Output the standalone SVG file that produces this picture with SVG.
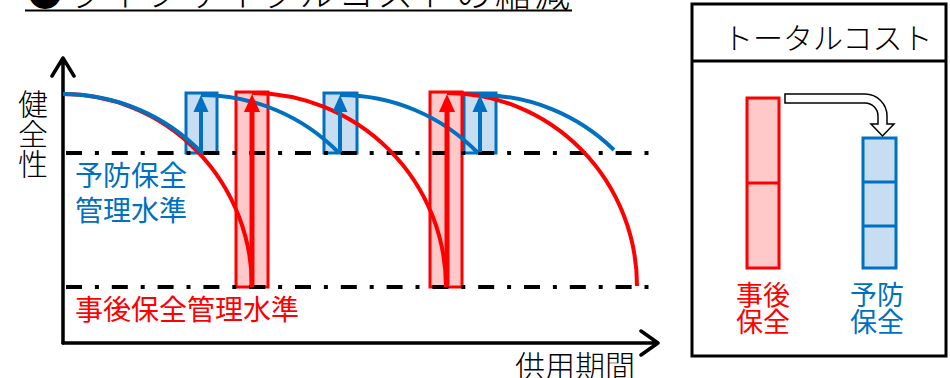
<svg xmlns="http://www.w3.org/2000/svg" width="950" height="378" viewBox="0 0 950 378">
<defs>
<style>
text{font-family:"Noto Sans CJK JP","Noto Sans CJK SC",sans-serif;}
.k{fill:#000;font-weight:300}
.b{fill:#0070C0}
.r{fill:#FF0000}
.rbox{fill:#FFC9C9;stroke:#FF0000;stroke-width:3}
.bbox{fill:#C7DDF1;stroke:#0070C0;stroke-width:3}
.dd{stroke:#000;stroke-width:4;stroke-dasharray:16 12.9 4 12.9;fill:none}
.rc{fill:none;stroke:#FF0000;stroke-width:4}
.bc{fill:none;stroke:#0070C0;stroke-width:4}
.ax{fill:none;stroke:#000;stroke-width:3.5;stroke-linecap:round;stroke-linejoin:round}
.ra{stroke:#FF0000;stroke-width:5}
.ba{stroke:#0070C0;stroke-width:4}
</style>
</defs>
<rect width="950" height="378" fill="#fff"/>

<g id="title">
<text class="k" x="27" y="7" font-size="36" textLength="543" lengthAdjust="spacing">●ライフサイクルコストの縮減</text>
<line x1="25" y1="10.5" x2="572" y2="10.5" stroke="#000" stroke-width="2"/>
</g>

<g id="boxes">
<rect id="blue-box-1" class="bbox" x="186" y="93" width="31" height="60"/>
<rect id="blue-box-2" class="bbox" x="324" y="93" width="33" height="60"/>
<rect id="blue-box-3" class="bbox" x="464" y="93" width="32" height="60"/>
<rect id="red-box-1" class="rbox" x="236" y="92" width="32" height="195"/>
<rect id="red-box-2" class="rbox" x="430" y="92" width="32" height="195"/>
</g>

<g id="levels">
<line class="dd" x1="66" y1="153" x2="652" y2="153"/>
<line class="dd" x1="66" y1="287" x2="652" y2="287"/>
</g>

<g id="axes">
<path class="ax" d="M63,343 V58 M52,76 L63,58 L74,76"/>
<path class="ax" d="M63,343 H657 M641,331 L658,343 L641,355"/>
</g>

<g id="connectors">
<path class="rc" d="M63,94 A189,193 0 0 1 252,287"/>
<path class="rc" d="M252,93 A194,194 0 0 1 446,287"/>
<path class="rc" d="M447,93 A190,193 0 0 1 637,286"/>
<path class="bc" d="M63,94 A193,193 0 0 1 202,153"/>
<path class="bc" d="M201,95 A192,192 0 0 1 339,153"/>
<path class="bc" d="M340,95 A192,192 0 0 1 478,153"/>
<path class="bc" d="M480,95 A192,192 0 0 1 614,150"/>
<line class="ba" x1="201" y1="152" x2="201" y2="108"/>
<polygon fill="#0070C0" points="201,95 193.5,112 208.5,112"/>
<line class="ba" x1="340" y1="152" x2="340" y2="108"/>
<polygon fill="#0070C0" points="340,95 332.5,112 347.5,112"/>
<line class="ba" x1="480" y1="152" x2="480" y2="108"/>
<polygon fill="#0070C0" points="480,95 472.5,112 487.5,112"/>
<line class="ra" x1="252" y1="285" x2="252" y2="108"/>
<polygon fill="#FF0000" points="252,94 244,112 260,112"/>
<line class="ra" x1="447" y1="285" x2="447" y2="108"/>
<polygon fill="#FF0000" points="447,94 439,112 455,112"/>
</g>

<g id="labels">
<text class="k" font-size="30" text-anchor="middle"><tspan x="33" y="115">健</tspan><tspan x="33" y="145">全</tspan><tspan x="33" y="175">性</tspan></text>
<text class="b" font-size="28"><tspan x="75" y="186">予防保全</tspan><tspan x="75" y="221">管理水準</tspan></text>
<text class="r" font-size="28" x="75" y="320">事後保全管理水準</text>
<text class="k" font-size="30" x="515" y="377">供用期間</text>
</g>

<g id="total-cost">
<rect x="692" y="4" width="254" height="352" fill="none" stroke="#000" stroke-width="3"/>
<line x1="692" y1="61" x2="946" y2="61" stroke="#000" stroke-width="3"/>
<text class="k" font-size="30" x="723" y="49">トータルコスト</text>
<g id="bar-red">
<rect class="rbox" x="747" y="98" width="32" height="170" stroke-width="3"/>
<line x1="747" y1="183" x2="779" y2="183" stroke="#FF0000" stroke-width="3"/>
<text class="r" font-size="27" text-anchor="middle"><tspan x="763" y="305">事後</tspan><tspan x="763" y="332">保全</tspan></text>
</g>
<g id="bar-blue">
<rect class="bbox" x="863" y="138" width="33" height="130"/>
<line x1="863" y1="182" x2="896" y2="182" stroke="#0070C0" stroke-width="3"/>
<line x1="863" y1="226" x2="896" y2="226" stroke="#0070C0" stroke-width="3"/>
<text class="b" font-size="27" text-anchor="middle"><tspan x="877" y="305">予防</tspan><tspan x="877" y="332">保全</tspan></text>
</g>
<path id="shift-arrow" d="M785,94 H865 A22,22 0 0 1 887,116 V124 H894 L882.5,136 L871,124 H878 V116 A13,13 0 0 0 865,103 H785 Z" fill="#fff" stroke="#000" stroke-width="1.5" stroke-linejoin="miter"/>
</g>
</svg>
